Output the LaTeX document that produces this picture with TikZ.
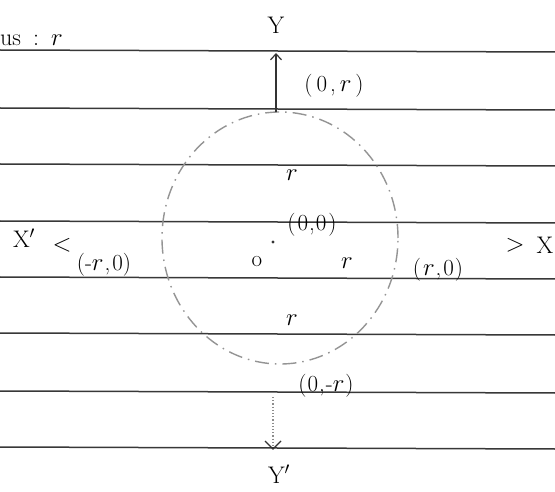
\documentclass[tikz,border=0pt]{standalone}
\usetikzlibrary{arrows.meta}
\begin{document}
\begin{tikzpicture}[x=1pt,y=-1pt,
  rule/.style={draw=black!78,line width=1.5pt},
  lbl/.style={inner sep=0pt,font=\fontsize{23}{26}\selectfont},
  big/.style={inner sep=0pt,font=\fontsize{24}{26}\selectfont},
  circ/.style={draw=black!42,line width=1.4pt,dash pattern=on 14pt off 6pt on 1.5pt off 6pt},
  axis/.style={draw=black!80,line width=1.2pt,-{Straight Barb[length=6pt,width=11pt]}},
  daxis/.style={draw=black!45,line width=1.2pt,dotted}]
\useasboundingbox (0,0) rectangle (555,492);
\fill[white] (0,0) rectangle (555,492);
% ruled lines
\foreach \yy/\dy in {50/2,108/2,164/2,221/2,277/2,333/2,391/2,447/2}
  \draw[rule] (0,\yy) -- (555,\yy+\dy);
% circle
\coordinate (O) at (280,238);
\draw[circ] (O) ellipse [x radius=118pt, y radius=126pt];
% centre dot
\fill[black!80] (273,242) circle (1.6pt);
% axes
\coordinate (ctop) at (276,112);
\coordinate (ytip) at (276,53);
\draw[axis] (ctop) -- (ytip);
\coordinate (cbot) at (273,397);
\coordinate (ybtip) at (273,449);
\draw[daxis] (cbot) -- (ybtip);
\draw[black!80,line width=1.2pt] (265,441) -- (ybtip) -- (281,441);
% labels
\node[big] (Y) at (276,25) {Y};
\node[big] (Yp) at (279,474) {Y$'$};
\node[big] (Xp) at (24,238) {X$'$};
\node[big] (lt) at (62,245) {$<$};
\node[big] (gt) at (515,245) {$>$};
\node[big] (X) at (545,245) {X};
\node[lbl] (p0r) at (334,86) {(\kern4pt0\kern3pt,\kern4pt$r$\kern4pt)};
\node[lbl] (p00) at (312,225) {(\kern2pt0\kern1pt,\kern1pt0\kern2pt)};
\node[lbl] (pmr) at (104,265) {(-$r$\kern1pt,\kern2pt0)};
\node[lbl] (pr0) at (438,270) {(\kern2pt$r$\kern1pt,\kern2pt0\kern1pt)};
\node[lbl] (p0m) at (326,386) {(\kern1pt0\kern1pt,\kern1pt-$r$\kern1pt)};
\node[lbl] (rt) at (292,175) {$r$};
\node[lbl] (rr) at (347,263) {$r$};
\node[lbl] (rb) at (292,320) {$r$};
\node[lbl] (o) at (257,262) {o};
\node[big,anchor=base west] (rad) at (0,46) {us\kern12pt:\kern12pt$r$};
\end{tikzpicture}
\end{document}
